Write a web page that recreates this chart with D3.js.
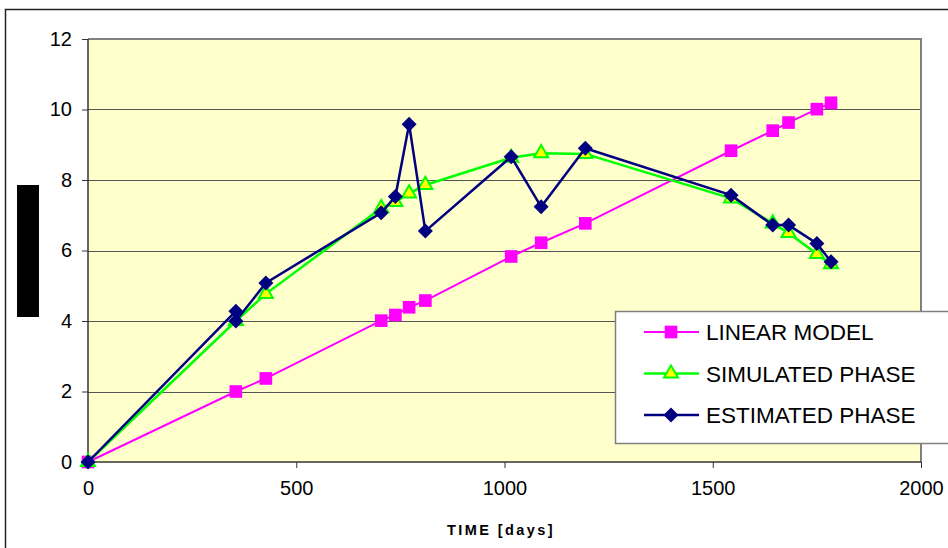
<!DOCTYPE html>
<html><head><meta charset="utf-8">
<script src="https://cdn.jsdelivr.net/npm/d3@7"></script>
<style>body{margin:0;background:#fff}svg{display:block}text{font-family:"Liberation Sans",Arial,sans-serif}</style>
</head><body><svg id="c" width="948" height="548"></svg>
<script>
const linearT = [0,355,427,704,738,771,810,1016,1088,1194,1544,1644,1682,1750,1784];
const linearV = [0,2.0,2.37,4.01,4.17,4.39,4.58,5.83,6.22,6.77,8.83,9.40,9.63,10.01,10.19];
const simT = [0,355,427,704,738,771,810,1016,1088,1194,1544,1644,1682,1750,1784];
const simV = [0,4.0,4.77,7.2,7.38,7.62,7.86,8.63,8.76,8.74,7.48,6.77,6.5,5.9,5.61];
const estT = [0,355,355,427,704,738,771,810,1016,1088,1194,1544,1644,1682,1750,1784];
const estV = [0,4.28,4.0,5.08,7.07,7.53,9.58,6.55,8.66,7.24,8.9,7.57,6.72,6.72,6.2,5.68];
const xTicks = [0,500,1000,1500,2000];
const yTicks = [0,2,4,6,8,10,12];
const seriesNames = ["LINEAR MODEL","SIMULATED PHASE","ESTIMATED PHASE"];
const xTitle = "TIME [days]";

const svg = d3.select("#c");
const L=88,R=921,T=39,B=462;
const x = d3.scaleLinear().domain([0,2000]).range([L,R]);
const y = d3.scaleLinear().domain([0,12]).range([B,T]);

// outer chart border
svg.append("rect").attr("x",5.5).attr("y",9.5).attr("width",1000).attr("height",1000)
  .attr("fill","#fff").attr("stroke","#222").attr("stroke-width",1.5);
// plot area
svg.append("rect").attr("x",L).attr("y",T).attr("width",R-L).attr("height",B-T).attr("fill","#FFFFCC");
// gridlines
svg.append("g").selectAll("line").data(yTicks.filter(d=>d>0&&d<12)).join("line")
  .attr("x1",L).attr("x2",R).attr("y1",d=>Math.round(y(d))+0.5).attr("y2",d=>Math.round(y(d))+0.5)
  .attr("stroke","#555").attr("stroke-width",1);
// plot border top/right
svg.append("path").attr("d",`M${L},${T}H${R}V${B}`).attr("fill","none").attr("stroke","#808080").attr("stroke-width",2);

// axes
const yAx = svg.append("g").attr("transform",`translate(${L},0)`)
  .call(d3.axisLeft(y).tickValues(yTicks).tickSize(6).tickPadding(10).tickFormat(d3.format("d")));
const xAx = svg.append("g").attr("transform",`translate(0,${B})`)
  .call(d3.axisBottom(x).tickValues(xTicks).tickSize(6).tickPadding(13).tickFormat(d3.format("d")));
[yAx,xAx].forEach(g=>{
  g.select(".domain").attr("stroke","#333").attr("stroke-width",1.5);
  g.selectAll(".tick line").attr("stroke","#333");
  g.selectAll("text").attr("font-size",20).attr("fill","#000").attr("font-family","Liberation Sans, Arial, sans-serif");
});
xAx.select(".domain").attr("d",`M${L},0H${R}`);
yAx.select(".domain").attr("d",`M0,${T}V${B}`);

// y-axis title (redacted box)
svg.append("rect").attr("x",17).attr("y",185).attr("width",22).attr("height",132).attr("fill","#000");
// x title
svg.append("text").attr("x",501).attr("y",535).attr("text-anchor","middle")
  .attr("font-size",14.5).attr("font-weight","bold").attr("letter-spacing",2.4).text(xTitle);

const line = d3.line().x(d=>x(d[0])).y(d=>y(d[1]));
const lin = linearT.map((t,i)=>[t,linearV[i]]);
const sim = simT.map((t,i)=>[t,simV[i]]);
const est = estT.map((t,i)=>[t,estV[i]]);

const sq = d3.symbol().type(d3.symbolSquare).size(160);
const tri = d3.symbol().type(d3.symbolTriangle).size(85);
const dia = "M0,-7.5L7.5,0L0,7.5L-7.5,0Z";

function draw(data,color,w,sym,fill,stroke,sw){
  svg.append("path").datum(data).attr("d",line).attr("fill","none").attr("stroke",color).attr("stroke-width",w);
  svg.append("g").selectAll("path").data(data).join("path")
    .attr("transform",d=>`translate(${x(d[0])},${y(d[1])})`).attr("d",sym)
    .attr("fill",fill).attr("stroke",stroke).attr("stroke-width",sw);
}
draw(lin,"#FF00FF",2,sq,"#FF00FF","none",0);
draw(sim,"#00FF00",2.5,tri,"#FFFF00","#00FF00",2);
draw(est,"#000080",2.5,dia,"#000080","none",0);

// legend
const lg = svg.append("g");
lg.append("rect").attr("x",615.5).attr("y",311.5).attr("width",400).attr("height",132)
  .attr("fill","#fff").attr("stroke","#808080").attr("stroke-width",1.5);
const items=[["#FF00FF",sq,"#FF00FF","none",0,2],["#00FF00",tri,"#FFFF00","#00FF00",2,2.5],["#000080",dia,"#000080","none",0,2.5]];
items.forEach((it,i)=>{
  const yy = 332 + i*41.5;
  lg.append("line").attr("x1",644).attr("x2",699).attr("y1",yy).attr("y2",yy).attr("stroke",it[0]).attr("stroke-width",it[5]);
  lg.append("path").attr("transform",`translate(671,${yy})`).attr("d",it[1]).attr("fill",it[2]).attr("stroke",it[3]).attr("stroke-width",it[4]);
  lg.append("text").attr("x",706).attr("y",yy).attr("dy","0.36em").attr("font-size",22.5).text(seriesNames[i]);
});
</script></body></html>
